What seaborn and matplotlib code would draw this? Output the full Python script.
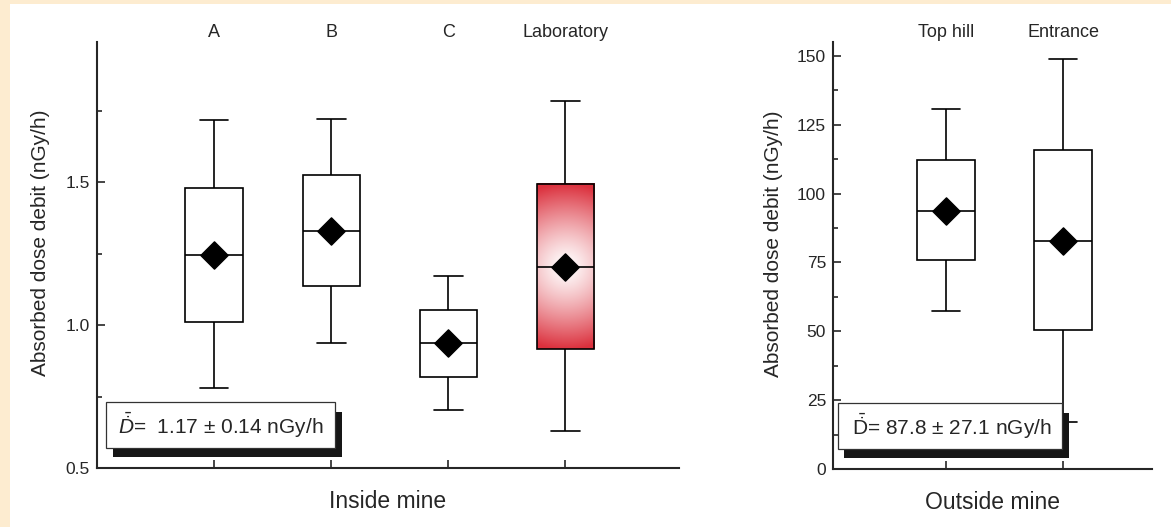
import numpy as np
import pandas as pd
import matplotlib
matplotlib.use("Agg")
import matplotlib.pyplot as plt
import matplotlib.transforms as mtransforms
from matplotlib.patches import Rectangle
from matplotlib.ticker import MultipleLocator
import seaborn as sns

# Daten
inside_sites = ["A", "B", "C", "Laboratory"]
inside_low = [0.78, 0.937, 0.703, 0.629]
inside_q1 = [1.01, 1.136, 0.818, 0.917]
inside_median = [1.245, 1.329, 0.937, 1.204]
inside_q3 = [1.48, 1.525, 1.052, 1.495]
inside_high = [1.717, 1.721, 1.171, 1.784]
inside_mean = [1.245, 1.329, 0.937, 1.204]

outside_sites = ["Top hill", "Entrance"]
outside_low = [57.2, 17.0]
outside_q1 = [75.7, 50.4]
outside_median = [93.8, 82.6]
outside_q3 = [112.2, 115.7]
outside_high = [130.5, 148.8]
outside_mean = [93.8, 82.8]

inside_text = r"$\bar{\dot{D}}$=  1.17 $\pm$ 0.14 nGy/h"
outside_text = r"$\bar{\dot{\mathrm{D}}}$= 87.8 $\pm$ 27.1 nGy/h"

# Stil
sns.set_style("ticks")
plt.rcParams["font.family"] = ["Liberation Sans", "DejaVu Sans"]
plt.rcParams["mathtext.fontset"] = "custom"
plt.rcParams["mathtext.rm"] = "Liberation Sans"
plt.rcParams["mathtext.it"] = "Liberation Sans:italic"
plt.rcParams["mathtext.bf"] = "Liberation Sans:bold"

box_width = 0.49


def long_frame(sites, low, q1, med, q3, high):
    # fuenf Kennwerte je Standort -> seaborn berechnet daraus genau diese Box
    vals = np.column_stack([low, q1, med, q3, high]).ravel()
    return pd.DataFrame({"site": np.repeat(sites, 5), "dose": vals})


fig = plt.figure(figsize=(11.71, 5.27), dpi=100)
fig.patch.set_facecolor("#fdecd0")
fig.add_artist(Rectangle((10 / 1171, 0), 1, 523 / 527, transform=fig.transFigure,
                         facecolor="white", edgecolor="none", zorder=-1))

ax1 = fig.add_axes([97 / 1171, 59 / 527, 582 / 1171, 426 / 527])
ax2 = fig.add_axes([833 / 1171, 58 / 527, 319 / 1171, 427 / 527])

df_in = long_frame(inside_sites, inside_low, inside_q1, inside_median, inside_q3, inside_high)
df_out = long_frame(outside_sites, outside_low, outside_q1, outside_median, outside_q3, outside_high)

for ax, df, sites, means in [(ax1, df_in, inside_sites, inside_mean),
                             (ax2, df_out, outside_sites, outside_mean)]:
    sns.boxplot(data=df, x="site", y="dose", order=sites, ax=ax, whis=(0, 100),
                width=box_width, color="white", linecolor="black", linewidth=1.2,
                fliersize=0)
    sns.scatterplot(x=np.arange(len(sites)), y=means, marker="D", s=190,
                    color="black", edgecolor="black", zorder=4, ax=ax, legend=False)
    ax.set_facecolor("none")
    ax.spines[["top", "right"]].set_visible(False)
    ax.spines[["left", "bottom"]].set_linewidth(1.5)
    ax.set_xticks(np.arange(len(sites)))
    ax.set_xticklabels(sites)
    ax.tick_params(axis="x", which="major", bottom=True, top=False, labelbottom=False,
                   labeltop=True, direction="in", length=6, width=1.2, pad=0.5,
                   labelsize=13)
    ax.tick_params(axis="y", which="major", direction="in", length=6, width=1.2,
                   pad=5, labelsize=12.5)
    ax.tick_params(axis="y", which="minor", direction="in", length=3.5, width=1.2)
    ax.set_ylabel("Absorbed dose debit (nGy/h)", fontsize=15)

# linke Grafik: innerhalb der Mine
ax1.set_xlim(-1, 3.97)
ax1.set_ylim(0.5, 1.99)
ax1.yaxis.set_major_locator(MultipleLocator(0.5))
ax1.yaxis.set_minor_locator(MultipleLocator(0.25))
ax1.yaxis.set_major_formatter(plt.FormatStrFormatter("%.1f"))
ax1.set_xlabel("Inside mine", fontsize=16.5, labelpad=16)
ax1.yaxis.set_label_coords(-0.081, 0.528)

# rechte Grafik: ausserhalb der Mine
ax2.set_xlim(-0.966, 1.76)
ax2.set_ylim(0, 155)
ax2.yaxis.set_major_locator(MultipleLocator(25))
ax2.yaxis.set_minor_locator(MultipleLocator(12.5))
ax2.set_xlabel("Outside mine", fontsize=16.5, labelpad=16)
ax2.yaxis.set_label_coords(-0.157, 0.528)

# Farbverlauf in der Labor-Box
lab = inside_sites.index("Laboratory")
ax1.patches[lab].set_facecolor("none")
x0, x1 = lab - box_width / 2, lab + box_width / 2
y0, y1 = inside_q1[lab], inside_q3[lab]
p0 = ax1.transData.transform((x0, y0))
p1 = ax1.transData.transform((x1, y1))
w_px, h_px = abs(p1[0] - p0[0]), abs(p1[1] - p0[1])
yc = (inside_median[lab] - y0) / (y1 - y0) * h_px
gx, gy = np.meshgrid(np.linspace(0, w_px, 80), np.linspace(0, h_px, 240))
r = np.hypot(gx - w_px / 2, gy - yc) / (0.5 * h_px)
t = np.clip(r, 0, 1) ** 1.25
red = np.array([0.86, 0.19, 0.24])
img = (1 - t[..., None]) * np.ones(3) + t[..., None] * red
ax1.imshow(img, extent=[x0, x1, y0, y1], origin="lower", aspect="auto",
           interpolation="bilinear", zorder=1.9)
ax1.set_xlim(-1, 3.97)
ax1.set_ylim(0.5, 1.99)

# Textkaesten mit Schatten
for ax, txt, (bx, bw, tx) in [(ax1, inside_text, (0.0155, 0.394, 0.036)),
                              (ax2, outside_text, (0.0147, 0.704, 0.058))]:
    shadow_tr = mtransforms.offset_copy(ax.transAxes, fig=fig, x=4.7, y=-6.8, units="points")
    ax.add_patch(Rectangle((bx, 0.048), bw, 0.106, transform=shadow_tr, facecolor="#161616",
                           edgecolor="none", clip_on=False, zorder=5))
    ax.add_patch(Rectangle((bx, 0.048), bw, 0.106, transform=ax.transAxes, facecolor="white",
                           edgecolor="#333333", linewidth=0.9, clip_on=False, zorder=6))
    ax.text(tx, 0.10, txt, transform=ax.transAxes, fontsize=15, va="center", ha="left",
            zorder=7)

fig.savefig("out.png", dpi=100)
